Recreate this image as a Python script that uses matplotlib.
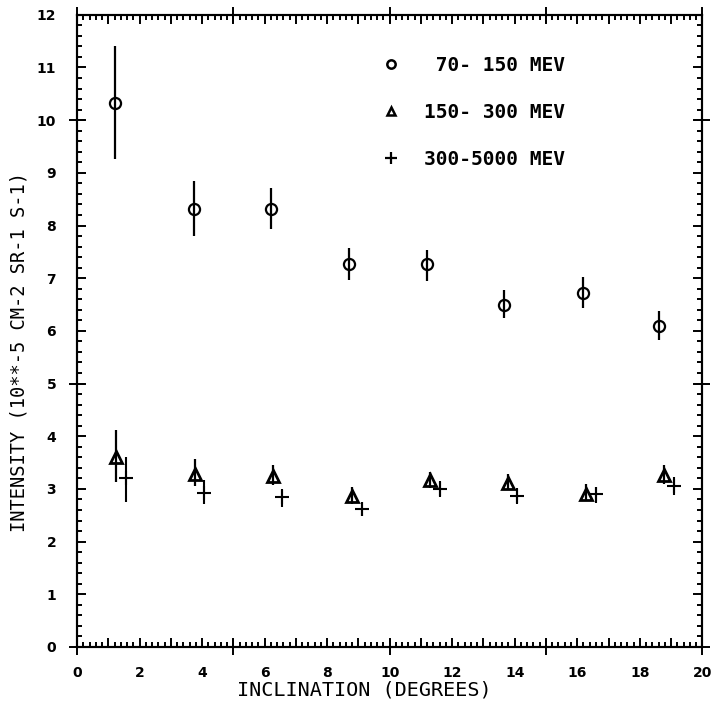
""" plot.py """

import matplotlib
matplotlib.use("Agg")
import matplotlib.pyplot as plt
from matplotlib.lines import Line2D
from matplotlib.ticker import MultipleLocator, FuncFormatter

# 70-150 MeV
x1 = [1.22, 3.74, 6.20, 8.70, 11.20, 13.66, 16.19, 18.62]
y1 = [10.32, 8.32, 8.32, 7.26, 7.26, 6.49, 6.71, 6.10]
lo1 = [9.26, 7.80, 7.94, 6.97, 6.95, 6.25, 6.44, 5.83]
hi1 = [11.41, 8.85, 8.71, 7.58, 7.54, 6.78, 7.03, 6.38]

# 150-300 MeV
x2 = [1.24, 3.77, 6.26, 8.79, 11.30, 13.78, 16.28, 18.78]
y2 = [3.61, 3.28, 3.25, 2.87, 3.17, 3.12, 2.91, 3.27]
lo2 = [3.13, 3.05, 3.08, 2.72, 3.01, 2.98, 2.79, 3.09]
hi2 = [4.11, 3.56, 3.46, 3.03, 3.33, 3.28, 3.09, 3.46]

# 300-5000 MeV
x3 = [1.56, 4.06, 6.56, 9.10, 11.60, 14.08, 16.60, 19.08]
y3 = [3.20, 2.93, 2.84, 2.62, 3.00, 2.86, 2.90, 3.06]
lo3 = [2.76, 2.71, 2.66, 2.48, 2.84, 2.71, 2.74, 2.89]
hi3 = [3.61, 3.16, 3.00, 2.76, 3.15, 3.01, 3.04, 3.23]

labels = [" 70- 150 MEV", "150- 300 MEV", "300-5000 MEV"]

mono = "DejaVu Sans Mono"

fig = plt.figure(figsize=(7.13, 7.04), dpi=100)
ax = fig.add_axes([0.108, 0.081, 0.877, 0.898])


def errs(y, lo, hi):
    return [[a - b for a, b in zip(y, lo)], [c - a for a, c in zip(y, hi)]]


ax.errorbar(x1, y1, yerr=errs(y1, lo1, hi1), fmt="o", ms=8, mfc="none",
            mec="black", mew=1.6, ecolor="black", elinewidth=1.6, capsize=0)
ax.errorbar(x2, y2, yerr=errs(y2, lo2, hi2), fmt="^", ms=8, mfc="none",
            mec="black", mew=2.0, ecolor="black", elinewidth=1.6, capsize=0)
ax.errorbar(x3, y3, yerr=errs(y3, lo3, hi3), fmt="+", ms=10, mec="black",
            mew=1.5, ecolor="black", elinewidth=1.5, capsize=0)

ax.set_xlim(0, 20)
ax.set_ylim(0, 12)

ax.xaxis.set_major_locator(MultipleLocator(1))
ax.xaxis.set_minor_locator(MultipleLocator(0.2))
ax.xaxis.set_major_formatter(FuncFormatter(
    lambda v, p: "%d" % v if int(round(v)) % 2 == 0 else ""))
ax.yaxis.set_major_locator(MultipleLocator(1))
ax.yaxis.set_minor_locator(MultipleLocator(0.2))
ax.yaxis.set_major_formatter(FuncFormatter(lambda v, p: "%d" % v))

ax.tick_params(which="both", direction="in", top=True, right=True,
               width=1.4, color="black")
ax.tick_params(which="major", length=6.5)
ax.tick_params(which="minor", length=3.5)
ax.tick_params(axis="x", which="major", pad=14)
ax.tick_params(axis="y", which="major", pad=15)
for lab in ax.get_xticklabels() + ax.get_yticklabels():
    lab.set_fontweight("bold")
    lab.set_fontsize(10)
for s in ax.spines.values():
    s.set_linewidth(1.5)

# long crossing ticks every 5 units
for side in ("bottom", "top"):
    sec = ax.secondary_xaxis(side)
    sec.set_xticks([0, 5, 10, 15, 20])
    sec.tick_params(direction="inout", length=11, width=1.4, labelbottom=False,
                    labeltop=False)
    sec.spines[side].set_linewidth(1.5)
for side in ("left", "right"):
    sec = ax.secondary_yaxis(side)
    sec.set_yticks([0, 5, 10])
    sec.tick_params(direction="inout", length=11, width=1.4, labelleft=False,
                    labelright=False)
    sec.spines[side].set_linewidth(1.5)

ax.set_xlabel("INCLINATION (DEGREES)", fontfamily=mono, fontsize=14.5)
ax.xaxis.set_label_coords(0.459, -0.053)
ax.set_ylabel("INTENSITY (10**-5 CM-2 SR-1 S-1)", fontfamily=mono,
              fontsize=13.5)
ax.yaxis.set_label_coords(-0.078, 0.467)

handles = [
    Line2D([], [], marker="o", ls="none", ms=6, mfc="none", mec="black", mew=1.8),
    Line2D([], [], marker="^", ls="none", ms=6, mfc="none", mec="black", mew=1.8),
    Line2D([], [], marker="+", ls="none", ms=9, mec="black", mew=1.6),
]
ax.legend(handles, labels, loc="upper left", bbox_to_anchor=(0.486, 0.935),
          frameon=False, handlelength=1.0, handletextpad=1.2,
          labelspacing=1.45, borderpad=0, borderaxespad=0,
          prop={"family": mono, "size": 14, "weight": "bold"})

plt.savefig("out.png", dpi=100)
